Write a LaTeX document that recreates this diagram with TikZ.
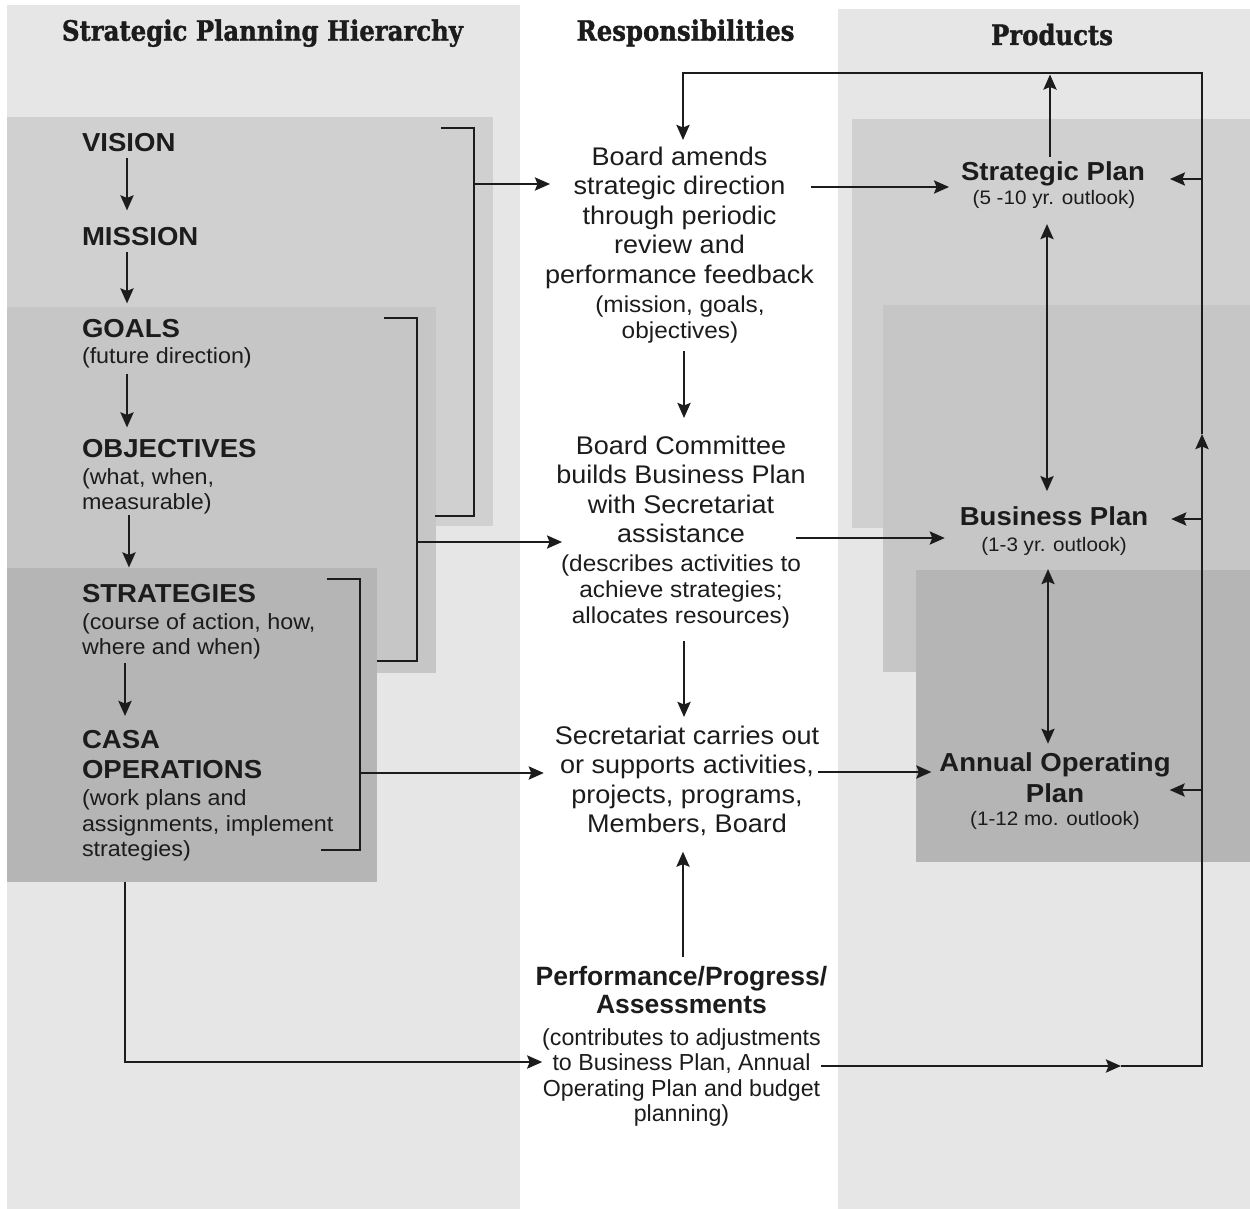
\documentclass[tikz,border=0pt]{standalone}
\usepackage{fontspec}
\setmainfont{Liberation Sans}[FakeStretch=1.06]
\newfontfamily\perffont{Liberation Sans}
\newfontfamily\titlefont{DejaVu Serif}[FakeStretch=0.87, BoldFeatures={FakeBold=1.2}]
\usetikzlibrary{arrows.meta}
\definecolor{colbg}{HTML}{E6E6E6}
\definecolor{lvA}{HTML}{D0D0D0}
\definecolor{lvB}{HTML}{C6C6C6}
\definecolor{lvC}{HTML}{B5B5B5}
\definecolor{ink}{HTML}{1C1C1C}
\tikzset{
  ln/.style={draw=ink, line width=2.6pt, line join=miter},
  arr/.style={ln, -{Stealth[length=15pt,width=13pt,inset=2.5pt]}},
  darr/.style={ln, {Stealth[length=15pt,width=13pt,inset=2.5pt]}-{Stealth[length=15pt,width=13pt,inset=2.5pt]}},
  txt/.style={inner sep=0pt, outer sep=0pt, text=ink},
  hd/.style={txt, font=\bfseries\fontsize{26}{30}\selectfont, align=left},
  sd/.style={txt, font=\fontsize{22}{25.5}\selectfont, align=left},
  md/.style={txt, font=\fontsize{25.5}{29.5}\selectfont, align=center},
  msd/.style={txt, font=\fontsize{23}{26}\selectfont, align=center},
  pf/.style={txt, font=\perffont\bfseries\fontsize{26.5}{28}\selectfont, align=center},
  pfd/.style={txt, font=\perffont\fontsize{23.2}{25.6}\selectfont, align=center},
  pd/.style={txt, font=\bfseries\fontsize{26}{30.6}\selectfont, align=center},
  psd/.style={txt, font=\fontsize{19.5}{23}\selectfont},
  tt/.style={txt, font=\titlefont\bfseries\fontsize{28}{32}\selectfont},
  panel/.style={inner sep=0pt, outer sep=0pt, anchor=north west, draw=none}
}
\begin{document}
\begin{tikzpicture}[x=1pt,y=-1pt]
\useasboundingbox (0,0) rectangle (1250,1209);
\fill[white] (0,0) rectangle (1250,1209);
% column backgrounds
\fill[colbg] (7,5) rectangle (520,1209);
\fill[colbg] (838,9) rectangle (1250,1209);
% left nested panels
\node[panel, fill=lvA, minimum width=486pt, minimum height=409pt] (boxA) at (7,117) {};
\node[panel, fill=lvB, minimum width=429pt, minimum height=366pt] (boxB) at (7,307) {};
\node[panel, fill=lvC, minimum width=370pt, minimum height=314pt] (boxC) at (7,568) {};
% right nested panels
\node[panel, fill=lvA, minimum width=398pt, minimum height=409pt] (boxD) at (852,119) {};
\node[panel, fill=lvB, minimum width=367pt, minimum height=367pt] (boxE) at (883,305) {};
\node[panel, fill=lvC, minimum width=334pt, minimum height=292pt] (boxF) at (916,570) {};

% titles
\node[tt, anchor=base] (t1) at (262.5,40.7) {Strategic Planning Hierarchy};
\node[tt, anchor=base] (t2) at (685.5,40.7) {Responsibilities};
\node[tt, anchor=base] (t3) at (1052,45) {Products};

% left hierarchy
\node[hd, anchor=base west] (vision) at (82,152) {VISION};
\node[hd, anchor=base west] (mission) at (82,245) {MISSION};
\node[hd, anchor=base west] (goals) at (82,337) {GOALS};
\node[sd, anchor=base west] (goalsd) at (82,363) {(future direction)};
\node[hd, anchor=base west] (objectives) at (82,457) {OBJECTIVES};
\node[sd, anchor=north west] (objd) at (82,468.5) {(what, when,\\measurable)};
\node[hd, anchor=base west] (strategies) at (82,602) {STRATEGIES};
\node[sd, anchor=north west] (strd) at (82,613.5) {(course of action, how,\\where and when)};
\node[hd, anchor=north west] (casa) at (82,730.4) {CASA\\OPERATIONS};
\node[sd, anchor=north west] (casad) at (82,790) {(work plans and\\assignments, implement\\strategies)};

% responsibilities
\node[md, anchor=north] (board) at (679.5,146.7) {Board amends\\strategic direction\\through periodic\\review and\\performance feedback};
\node[msd, anchor=north] (boardd) at (680,296) {(mission, goals,\\objectives)};
\node[md, anchor=north] (comm) at (681,435.7) {Board Committee\\builds Business Plan\\with Secretariat\\assistance};
\node[msd, anchor=north] (commd) at (681,554.5) {(describes activities to\\achieve strategies;\\allocates resources)};
\node[md, anchor=north] (sec) at (687,725.7) {Secretariat carries out\\or supports activities,\\projects, programs,\\Members, Board};
\node[pf, anchor=north] (perf) at (681.5,966) {Performance/Progress/\\Assessments};
\node[pfd, anchor=north] (perfd) at (681.5,1028.3) {(contributes to adjustments\\to Business Plan, Annual\\Operating Plan and budget\\planning)};

% products
\node[pd, anchor=base] (sp) at (1053,181) {Strategic Plan};
\node[psd, anchor=base] (spd) at (1054,205) {(5 -10 yr. outlook)};
\node[pd, anchor=base] (bp) at (1054,525) {Business Plan};
\node[psd, anchor=base] (bpd) at (1054,551) {(1-3 yr. outlook)};
\node[pd, anchor=north] (aop) at (1055,752.8) {Annual Operating\\Plan};
\node[psd, anchor=base] (aopd) at (1055,825) {(1-12 mo. outlook)};

% brackets
\draw[ln] (441,128) -- (474,128) -- (474,516) -- (435,516);
\draw[ln] (384,318) -- (417,318) -- (417,661) -- (377,661);
\draw[ln] (327,579) -- (360,579) -- (360,850) -- (321,850);

% junction coordinates
\coordinate (b1m) at (474,184);
\coordinate (b2m) at (417,542);
\coordinate (b3m) at (360,773);
\coordinate (ax1) at (127,0);
\coordinate (ax2) at (129,0);
\coordinate (ax3) at (125,0);
\coordinate (jl) at (125,1062);
\coordinate (jr) at (1202,1066);
\coordinate (jm) at (1121,1066);
\coordinate (rv) at (1202,434);
\coordinate (rt) at (1202,73);
\coordinate (lt) at (683,73);
\coordinate (r1) at (1202,179);
\coordinate (r2) at (1202,519);
\coordinate (r3) at (1202,790);
\coordinate (mx) at (684,0);
\coordinate (px) at (1050,0);
\coordinate (dx1) at (1047,0);
\coordinate (dx2) at (1048,0);
\coordinate (y187) at (0,187);
\coordinate (y538) at (0,538);
\coordinate (y772) at (0,772);

% hierarchy arrows
\draw[arr, shorten <=6pt, shorten >=16.4pt] (vision.south -| ax1) -- (mission.north -| ax1);
\draw[arr, shorten <=7pt, shorten >=15.4pt] (mission.south -| ax1) -- (goals.north -| ax1);
\draw[arr, shorten <=6.3pt, shorten >=11.4pt] (goalsd.south -| ax1) -- (objectives.north -| ax1);
\draw[arr, shorten <=0.8pt, shorten >=16.4pt] (objd.south -| ax2) -- (strategies.north -| ax2);
\draw[arr, shorten <=3.8pt, shorten >=14.4pt] (strd.south -| ax3) -- (casa.north -| ax3);

% brackets to responsibilities
\draw[arr, shorten >=-5pt] (b1m) -- (b1m -| board.west);
\draw[arr, shorten >=-1pt] (b2m) -- (b2m -| commd.west);
\draw[arr, shorten >=11pt] (b3m) -- (b3m -| sec.west);

% responsibilities chain
\draw[arr, shorten <=8pt, shorten >=17.7pt] (boardd.south -| mx) -- (comm.north -| mx);
\draw[arr, shorten <=13pt, shorten >=8.7pt] (commd.south -| mx) -- (sec.north -| mx);
\draw[arr, shorten <=9pt, shorten >=15.7pt] (perf.north -| lt) -- (sec.south -| lt);

% responsibilities to products
\draw[arr, shorten <=-3pt, shorten >=12pt] (board.east |- y187) -- (sp.west |- y187);
\draw[arr, shorten <=-10pt, shorten >=15pt] (comm.east |- y538) -- (bp.west |- y538);
\draw[arr, shorten <=-1pt, shorten >=8pt] (sec.east |- y772) -- (aop.west |- y772);

% products links
\draw[arr, shorten <=5.4pt, shorten >=1.5pt] (sp.north -| px) -- (rt -| px);
\draw[darr, shorten <=15pt, shorten >=15pt] (spd.south -| dx1) -- (bp.north -| dx1);
\draw[darr, shorten <=14pt, shorten >=9pt] (bpd.south -| dx2) -- (aop.north -| dx2);

% operations to assessment, feedback loop
\draw[arr] (boxC.south -| ax3) -- (jl) -- (jl -| perfd.west);
\draw[arr] (jr -| perfd.east) -- (jm);
\draw[arr] (jm) -- (jr) -- (rv);
\draw[arr, shorten >=6.7pt] (rv) -- (rt) -- (lt) -- (lt |- board.north);
\draw[arr, shorten >=25pt] (r1) -- (r1 -| sp.east);
\draw[arr, shorten >=23pt] (r2) -- (r2 -| bp.east);
\draw[arr, shorten >=-1pt] (r3) -- (r3 -| aop.east);
\end{tikzpicture}
\end{document}
